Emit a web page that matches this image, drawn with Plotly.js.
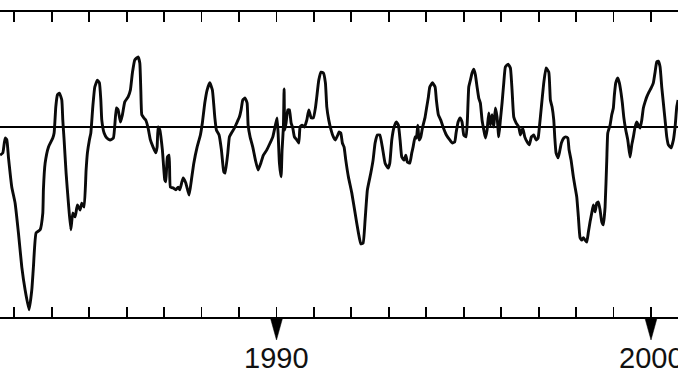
<!DOCTYPE html>
<html>
<head>
<meta charset="utf-8">
<script src="https://cdn.plot.ly/plotly-3.0.1.min.js"></script>
<style>html,body{margin:0;padding:0;background:#fff;}#chart{width:678px;height:381px;}</style>
</head>
<body>
<div id="chart"></div>
<script>
// Time (decimal years) and index values
const years = [
1982.620,1982.692,1982.754,1982.799,1982.842,1982.932,1983.021,1983.109,1983.199,1983.288,
1983.394,1983.466,1983.509,1983.581,1983.688,1983.760,1983.776,1983.822,1983.910,1984.027,
1984.062,1984.107,1984.150,1984.203,1984.267,1984.294,1984.329,1984.382,1984.444,1984.508,
1984.561,1984.623,1984.684,1984.756,1984.801,1984.863,1984.916,1984.951,1985.004,1985.042,
1985.095,1985.148,1985.218,1985.271,1985.309,1985.335,1985.397,1985.469,1985.557,1985.645,
1985.725,1985.771,1985.832,1985.885,1985.949,1986.038,1986.099,1986.152,1986.216,1986.305,
1986.350,1986.377,1986.403,1986.457,1986.510,1986.572,1986.633,1986.705,1986.777,1986.812,
1986.839,1986.884,1986.953,1987.017,1987.044,1987.087,1987.132,1987.167,1987.239,1987.311,
1987.373,1987.418,1987.506,1987.578,1987.666,1987.728,1987.792,1987.880,1987.968,1988.021,
1988.085,1988.147,1988.219,1988.288,1988.352,1988.395,1988.467,1988.529,1988.593,1988.628,
1988.700,1988.743,1988.814,1988.876,1988.940,1989.009,1989.055,1989.100,1989.162,1989.215,
1989.242,1989.295,1989.367,1989.437,1989.509,1989.581,1989.650,1989.741,1989.829,1989.901,
1989.971,1990.016,1990.043,1990.078,1990.123,1990.149,1990.184,1990.203,1990.221,1990.256,
1990.302,1990.345,1990.390,1990.435,1990.478,1990.542,1990.595,1990.630,1990.683,1990.745,
1990.809,1990.862,1990.924,1990.985,1991.039,1991.076,1991.129,1991.191,1991.252,1991.306,
1991.343,1991.396,1991.458,1991.519,1991.573,1991.637,1991.671,1991.717,1991.759,1991.805,
1991.850,1991.920,1992.010,1992.099,1992.187,1992.251,1992.312,1992.366,1992.427,1992.518,
1992.579,1992.633,1992.694,1992.758,1992.827,1992.900,1992.980,1993.025,1993.078,1993.140,
1993.201,1993.254,1993.300,1993.345,1993.407,1993.452,1993.495,1993.559,1993.612,1993.647,
1993.701,1993.735,1993.773,1993.807,1993.853,1993.896,1993.968,1994.013,1994.056,1994.093,
1994.162,1994.235,1994.269,1994.323,1994.387,1994.448,1994.536,1994.627,1994.696,1994.760,
1994.795,1994.849,1994.902,1994.955,1995.001,1995.062,1995.097,1995.134,1995.177,1995.222,
1995.268,1995.311,1995.356,1995.401,1995.444,1995.489,1995.535,1995.578,1995.623,1995.668,
1995.711,1995.756,1995.802,1995.844,1995.890,1995.935,1995.978,1996.023,1996.069,1996.112,
1996.184,1996.245,1996.290,1996.336,1996.397,1996.469,1996.512,1996.576,1996.629,1996.691,
1996.752,1996.806,1996.870,1996.931,1996.985,1997.020,1997.073,1997.137,1997.198,1997.271,
1997.313,1997.358,1997.404,1997.430,1997.465,1997.519,1997.553,1997.607,1997.671,1997.719,
1997.778,1997.812,1997.866,1997.927,1997.973,1998.018,1998.061,1998.106,1998.151,1998.194,
1998.240,1998.285,1998.328,1998.373,1998.418,1998.461,1998.507,1998.552,1998.595,1998.640,
1998.685,1998.728,1998.774,1998.819,1998.846,1998.907,1998.952,1998.995,1999.022,1999.059,
1999.113,1999.155,1999.201,1999.235,1999.273,1999.326,1999.380,1999.441,1999.486,1999.529,
1999.575,1999.620,1999.663,1999.708,1999.753,1999.796,1999.842,1999.887,1999.948,2000.002,
2000.063,2000.109,2000.154,2000.197,2000.242,2000.287,2000.330,2000.376,2000.421,2000.464,
2000.536,2000.598,2000.643,2000.688,2000.723
];
const values = [
-0.74,-0.68,-0.29,-0.34,-0.79,-1.58,-2.00,-2.78,-3.68,-4.28,
-4.80,-4.28,-3.68,-2.78,-2.70,-2.26,-1.65,-0.95,-0.53,-0.29,
-0.16,0.53,0.84,0.89,0.71,0.18,-0.34,-1.21,-2.00,-2.70,
-2.26,-2.36,-2.05,-2.18,-2.00,-2.10,-1.13,-0.68,-0.34,-0.16,
0.53,1.05,1.23,1.16,0.71,0.18,-0.16,-0.29,-0.34,-0.29,
0.50,0.45,0.13,0.32,0.66,0.79,0.97,1.42,1.76,1.84,
1.68,0.97,0.32,0.24,0.18,-0.03,-0.34,-0.53,-0.68,-0.53,
0.00,-0.08,-0.60,-1.39,-1.44,-0.79,-0.74,-1.58,-1.60,-1.65,
-1.58,-1.65,-1.34,-1.47,-1.79,-1.39,-0.95,-0.53,-0.21,0.11,
0.63,0.97,1.16,0.97,0.26,-0.08,-0.21,-0.60,-1.18,-1.21,
-0.68,-0.26,-0.13,-0.03,0.11,0.26,0.45,0.71,0.76,0.63,
0.05,-0.26,-0.53,-0.87,-1.13,-0.95,-0.74,-0.60,-0.42,-0.26,
0.05,0.24,-0.16,-0.95,-1.31,-0.60,0.00,1.00,-0.08,0.11,
0.45,0.45,0.11,-0.03,-0.26,-0.34,-0.42,0.00,0.05,0.00,
0.18,0.45,0.24,0.24,0.50,0.79,1.23,1.44,1.42,1.16,
0.53,0.18,-0.08,-0.26,-0.34,-0.21,-0.13,-0.16,-0.42,-0.53,
-0.87,-1.31,-1.73,-2.26,-2.78,-3.07,-3.05,-2.44,-1.65,-1.21,
-0.87,-0.42,-0.21,-0.21,-0.53,-0.95,-1.08,-0.95,-0.34,0.00,
0.13,0.05,-0.34,-0.79,-0.87,-0.74,-0.92,-0.95,-0.68,-0.53,
-0.26,-0.29,0.05,-0.34,-0.26,-0.03,0.26,0.53,0.79,1.05,
1.16,1.05,0.71,0.32,0.18,0.00,-0.21,-0.34,-0.42,-0.39,
-0.16,0.13,0.24,0.13,-0.21,-0.26,0.18,1.05,1.23,1.42,
1.52,1.37,1.05,0.76,0.63,0.18,-0.08,-0.29,-0.08,0.37,
0.05,0.32,0.00,0.50,0.26,-0.26,0.18,0.63,1.16,1.58,
1.65,1.55,0.97,0.26,0.11,0.00,-0.21,-0.03,-0.26,-0.39,
-0.47,-0.26,-0.21,-0.34,-0.29,0.00,0.53,1.16,1.55,1.44,
0.71,0.53,0.18,-0.26,-0.68,-0.81,-0.68,-0.42,-0.29,-0.26,
-0.29,-0.60,-0.87,-1.31,-1.58,-1.84,-2.36,-2.91,-2.97,-2.91,
-2.97,-3.02,-2.76,-2.49,-2.26,-2.05,-2.23,-2.00,-1.97,-2.18,
-2.49,-2.57,-2.10,-0.87,-0.16,0.05,0.32,0.50,0.84,1.16,
1.29,1.16,0.89,0.63,0.26,-0.08,-0.34,-0.79,-0.47,-0.26,
0.00,0.13,0.05,-0.03,0.18,0.50,0.66,0.79,0.92,1.02,
1.16,1.44,1.71,1.73,1.58,1.05,0.63,0.18,-0.26,-0.47,
-0.55,-0.34,0.00,0.53,0.71
];
const tickYears = [1983,1984,1985,1986,1987,1988,1989,1990,1991,1992,1993,1994,1995,1996,1997,1998,1999,2000];
const labelYears = [1990, 2000];
const labelText = ['1990', '2000'];

// style constants
const triHalfWidth = 0.17;   // in years
const triDepth = 23;         // in y2 units (px-like)

const triX = [], triY = [];
labelYears.forEach(function (yr) {
  triX.push(yr - triHalfWidth, yr + triHalfWidth, yr, yr - triHalfWidth, null);
  triY.push(0, 0, -triDepth, 0, null);
});

const traces = [
  {
    x: years, y: values, type: 'scatter', mode: 'lines',
    line: {color: '#0a0a0a', width: 2.9, shape: 'spline', smoothing: 0.4},
    hoverinfo: 'skip', xaxis: 'x', yaxis: 'y'
  },
  {
    x: triX, y: triY, type: 'scatter', mode: 'lines',
    fill: 'toself', fillcolor: '#000', line: {color: '#000', width: 0.5},
    hoverinfo: 'skip', xaxis: 'x', yaxis: 'y2'
  }
];

const H = 381, TOP = 12, PLOT_BOTTOM = 317;
const paperH = H - TOP;
const split = (H - PLOT_BOTTOM) / paperH;

const layout = {
  width: 678, height: 381,
  margin: {l: 0, r: 0, t: TOP, b: 0, pad: 0},
  paper_bgcolor: '#fff', plot_bgcolor: 'rgba(0,0,0,0)',
  showlegend: false,
  xaxis: {
    range: [1982.617, 2000.721], anchor: 'y',
    tickmode: 'array', tickvals: tickYears,
    ticks: 'inside', ticklen: 10, tickwidth: 1.8, tickcolor: '#000',
    showticklabels: false, showgrid: false, zeroline: false,
    showline: true, linecolor: '#000', linewidth: 2, mirror: 'ticks'
  },
  yaxis: {
    domain: [split, 1], range: [-4.99, 3.02],
    showgrid: false, showticklabels: false, ticks: '',
    zeroline: true, zerolinecolor: '#000', zerolinewidth: 1.5, showline: false
  },
  yaxis2: {
    domain: [0, split], range: [-(H - PLOT_BOTTOM), 0],
    visible: false, showgrid: false, zeroline: false
  },
  annotations: labelYears.map(function (yr, i) {
    return {
      x: yr, xref: 'x', y: (H - 358) / paperH, yref: 'paper',
      text: labelText[i], showarrow: false, xanchor: 'center', yanchor: 'middle',
      font: {family: 'Liberation Sans, Arial, sans-serif', size: 29, color: '#111'}
    };
  })
};

Plotly.newPlot('chart', traces, layout, {staticPlot: true, displayModeBar: false});
</script>
</body>
</html>
